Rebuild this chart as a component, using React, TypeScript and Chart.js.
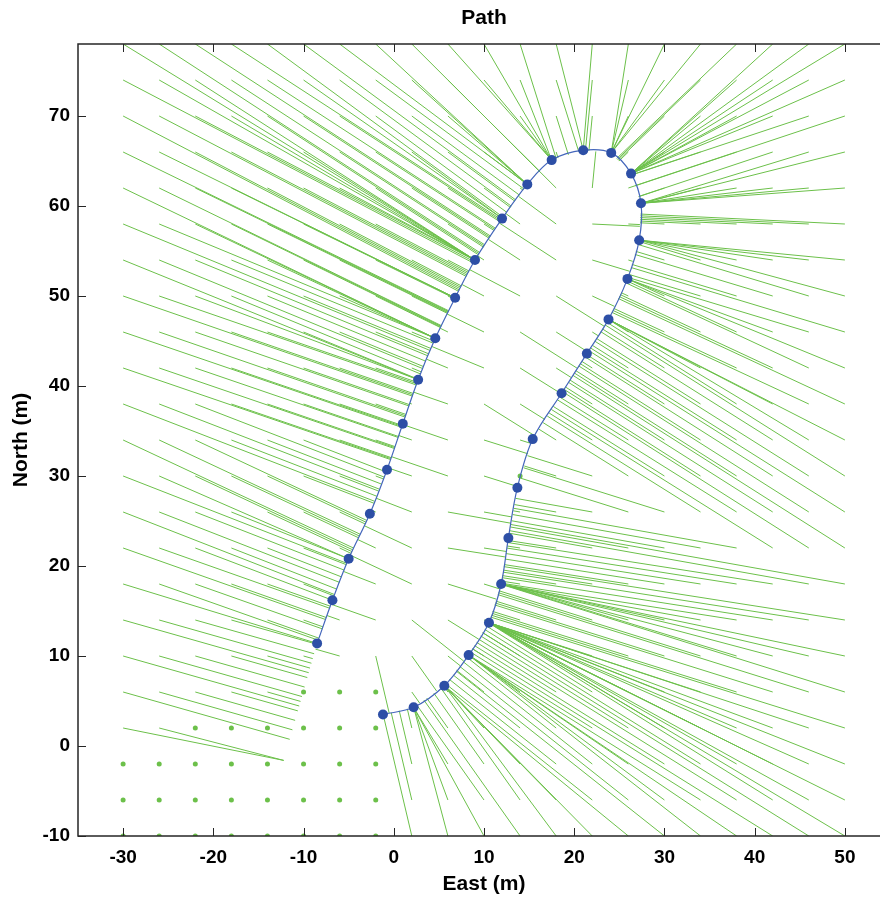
import React, { useEffect, useRef } from 'react';
import { Chart, registerables } from 'chart.js';

Chart.register(...registerables);

// Path waypoints (blue dots), in metres
const pathEast = [-1.2, 2.2, 5.6, 8.3, 10.55, 11.9, 12.7, 13.7, 15.4, 18.6, 21.4, 23.8, 25.9, 27.2, 27.4, 26.3, 24.1, 21.0, 17.5, 14.8, 12.0, 9.0, 6.8, 4.6, 2.7, 1.0, -0.75, -2.65, -5.0, -6.8, -8.5];
const pathNorth = [3.5, 4.3, 6.7, 10.1, 13.7, 18.0, 23.1, 28.7, 34.1, 39.2, 43.6, 47.4, 51.9, 56.2, 60.3, 63.6, 65.9, 66.2, 65.1, 62.4, 58.6, 54.0, 49.8, 45.3, 40.7, 35.8, 30.7, 25.8, 20.8, 16.2, 11.4];

// Continuation of the path past its last waypoint (targets for the field lines)
const extEast = [-12.2];
const extNorth = [-1.6];

// Field sample grid
const gridEast = [-30, -26, -22, -18, -14, -10, -6, -2, 2, 6, 10, 14, 18, 22, 26, 30, 34, 38, 42, 46, 50];
const gridNorth = [-10, -6, -2, 2, 6, 10, 14, 18, 22, 26, 30, 34, 38, 42, 46, 50, 54, 58, 62, 66, 70, 74, 78];

// Grid samples with zero-length field vectors (drawn as dots)
const restEast = [-30, -26, -22, -18, -14, -10, -6, -2, -30, -26, -22, -18, -14, -10, -6, -2, -30, -26, -22, -18, -14, -10, -6, -2, -22, -18, -14, -10, -6, -2, -10, -6, -2, 14];
const restNorth = [-10, -10, -10, -10, -10, -10, -10, -10, -6, -6, -6, -6, -6, -6, -6, -6, -2, -2, -2, -2, -2, -2, -2, -2, 2, 2, 2, 2, 2, 2, 6, 6, 6, 30];

const xTicks = [-30, -20, -10, 0, 10, 20, 30, 40, 50];
const yTicks = [-10, 0, 10, 20, 30, 40, 50, 60, 70];

const GREEN = '#6cc04a';
const BLUE = '#2d4fa6';
const FONT = '"Liberation Sans", Arial, Helvetica, sans-serif';

function nearestOnPath(px: number, py: number, xs: number[], ys: number[]) {
  let best = { x: xs[0], y: ys[0], d: Infinity };
  for (let i = 0; i < xs.length - 1; i++) {
    const ax = xs[i], ay = ys[i], bx = xs[i + 1], by = ys[i + 1];
    const dx = bx - ax, dy = by - ay;
    const L2 = dx * dx + dy * dy;
    let t = L2 > 0 ? ((px - ax) * dx + (py - ay) * dy) / L2 : 0;
    t = Math.max(0, Math.min(1, t));
    const qx = ax + t * dx, qy = ay + t * dy;
    const d = Math.hypot(px - qx, py - qy);
    if (d < best.d) best = { x: qx, y: qy, d };
  }
  return best;
}

const boxPlugin = {
  id: 'matlabBox',
  afterDatasetsDraw(chart: any) {
    const { ctx, chartArea: a, scales } = chart;
    const x = scales.x, y = scales.y;
    ctx.save();
    ctx.strokeStyle = '#262626';
    ctx.lineWidth = 1;
    ctx.beginPath();
    for (const v of xTicks) {
      const p = Math.round(x.getPixelForValue(v)) + 0.5;
      ctx.moveTo(p, a.bottom); ctx.lineTo(p, a.bottom - 8);
      ctx.moveTo(p, a.top); ctx.lineTo(p, a.top + 8);
    }
    for (const v of yTicks) {
      const p = Math.round(y.getPixelForValue(v)) + 0.5;
      ctx.moveTo(a.left, p); ctx.lineTo(a.left + 8, p);
      ctx.moveTo(a.right, p); ctx.lineTo(a.right - 8, p);
    }
    ctx.stroke();
    ctx.lineWidth = 1.5;
    ctx.strokeRect(a.left, a.top, a.right - a.left, a.bottom - a.top);
    ctx.restore();
  },
};

export default function App() {
  const ref = useRef<HTMLCanvasElement>(null);

  useEffect(() => {
    const fullE = [...pathEast, ...extEast];
    const fullN = [...pathNorth, ...extNorth];
    const restSet = new Set(restEast.map((e, i) => `${e},${restNorth[i]}`));

    const fieldLines: any[] = [];
    const dots: any[] = [];
    for (const gy of gridNorth) {
      for (const gx of gridEast) {
        if (restSet.has(`${gx},${gy}`)) { dots.push({ x: gx, y: gy }); continue; }
        const q = nearestOnPath(gx, gy, fullE, fullN);
        if (q.d < 0.15) continue;
        fieldLines.push({ x: gx, y: gy }, { x: q.x, y: q.y }, { x: gx, y: null });
      }
    }
    const pathPts = pathEast.map((e, i) => ({ x: e, y: pathNorth[i] }));

    const chart = new Chart(ref.current!, {
      type: 'line',
      data: {
        datasets: [
          { data: pathPts, showLine: false, pointRadius: 5, pointBackgroundColor: BLUE, pointBorderColor: BLUE, borderWidth: 0, order: 0 } as any,
          { data: pathPts, borderColor: '#4466bb', borderWidth: 1.2, pointRadius: 0, tension: 0.35, order: 1 },
          { data: dots, showLine: false, pointRadius: 2.5, pointBackgroundColor: GREEN, pointBorderWidth: 0, order: 2 } as any,
          { data: fieldLines, borderColor: GREEN, borderWidth: 1, pointRadius: 0, spanGaps: false, tension: 0, order: 3 },
        ],
      },
      options: {
        animation: false,
        responsive: false,
        devicePixelRatio: 1,
        layout: { padding: { left: 0, right: 10, top: 0, bottom: 0 } },
        plugins: {
          legend: { display: false },
          tooltip: { enabled: false },
          title: {
            display: true,
            fullSize: false,
            text: 'Path',
            color: '#000',
            font: { family: FONT, size: 21, weight: 'bold' },
            padding: { top: 6, bottom: 12.8 },
          },
        },
        scales: {
          x: {
            type: 'linear',
            min: -35,
            max: 55,
            afterBuildTicks: (s: any) => { s.ticks = xTicks.map((v) => ({ value: v })); },
            afterFit: (s: any) => { s.height = 63; },
            grid: { display: false, drawTicks: false },
            border: { display: false },
            ticks: { color: '#000', padding: 10, maxRotation: 0, font: { family: FONT, size: 19, weight: 'bold' } },
            title: { display: true, text: 'East (m)', color: '#000', padding: { top: 0, bottom: 2 }, font: { family: FONT, size: 21, weight: 'bold' } },
          },
          y: {
            type: 'linear',
            min: -10,
            max: 78,
            afterBuildTicks: (s: any) => { s.ticks = yTicks.map((v) => ({ value: v })); },
            afterFit: (s: any) => { s.width = 78; },
            grid: { display: false, drawTicks: false },
            border: { display: false },
            ticks: { color: '#000', padding: 8, font: { family: FONT, size: 19, weight: 'bold' } },
            title: { display: true, text: 'North (m)', color: '#000', padding: { top: 9, bottom: 0 }, font: { family: FONT, size: 21, weight: 'bold' } },
          },
        },
      },
      plugins: [boxPlugin],
    });
    return () => chart.destroy();
  }, []);

  return (
    <div style={{ position: 'fixed', left: 0, top: 0, width: 880, height: 899, overflow: 'hidden', background: '#fff' }}>
      <canvas ref={ref} width={900} height={899} style={{ display: 'block', width: 900, height: 899 }} />
    </div>
  );
}
